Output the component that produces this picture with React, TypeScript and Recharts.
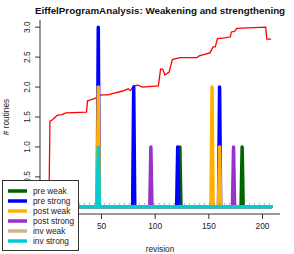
import React from "react";
import { LineChart, Line, XAxis, YAxis, ReferenceLine, Label } from "recharts";

const FONT = '"Liberation Sans", Arial, Helvetica, sans-serif';

const firstRevision = 1;
const lastRevision = 208;

// red line (cumulative routines)
const routineRevisions = [
  1, 2, 4, 7, 9, 13, 17, 36, 37, 39, 44, 50, 56, 60, 69, 75, 77, 80, 84, 88,
  103, 105, 107, 109, 113, 116, 123, 139, 141, 151, 154, 156, 158, 165, 170,
  171, 174, 176, 203, 204, 208,
];
const routineCounts = [
  0, 1.43, 1.45, 1.5, 1.53, 1.54, 1.57, 1.58, 1.77, 1.78, 1.81, 1.87, 1.87,
  1.89, 1.93, 1.97, 1.94, 2.02, 2.03, 2.0, 2.02, 2.3, 2.3, 2.2, 2.25, 2.46,
  2.49, 2.49, 2.52, 2.57, 2.67, 2.67, 2.81, 2.82, 2.84, 2.92, 2.93, 2.98, 3.0,
  2.8, 2.8,
];

// spikes per series
const preWeakRevs = [123, 181];
const preWeakCounts = [1, 1];
const preStrongRevs = [47, 80, 121, 160];
const preStrongCounts = [3, 2, 1, 2];
const postWeakRevs = [47, 153, 160];
const postWeakCounts = [2, 2, 1];
const postStrongRevs = [96, 173];
const postStrongCounts = [1, 1];
const invWeakRevs: number[] = [];
const invWeakCounts: number[] = [];
const invStrongRevs = [47];
const invStrongCounts = [1];

const xTicks = [50, 100, 150, 200];
const yTicks = [0, 0.5, 1, 1.5, 2, 2.5, 3];

const routineData = routineRevisions.map((rev, i) => ({ rev, count: routineCounts[i] }));

function spikeSeries(revs: number[], counts: number[]) {
  const pts = [{ rev: firstRevision, count: 0 }];
  revs.forEach((r, i) => {
    pts.push({ rev: r - 1, count: 0 }, { rev: r, count: counts[i] }, { rev: r + 1, count: 0 });
  });
  pts.push({ rev: lastRevision, count: 0 });
  return pts;
}

const series = [
  { name: "pre weak", color: "#006400", data: spikeSeries(preWeakRevs, preWeakCounts) },
  { name: "pre strong", color: "#0000ff", data: spikeSeries(preStrongRevs, preStrongCounts) },
  { name: "post weak", color: "#ffb000", data: spikeSeries(postWeakRevs, postWeakCounts) },
  { name: "post strong", color: "#9932cc", data: spikeSeries(postStrongRevs, postStrongCounts) },
  { name: "inv weak", color: "#d2b48c", data: spikeSeries(invWeakRevs, invWeakCounts) },
  { name: "inv strong", color: "#00ced1", data: spikeSeries(invStrongRevs, invStrongCounts) },
];

const YTick = (props: any) => {
  const { x, y, payload } = props;
  return (
    <text
      x={x}
      y={y}
      transform={`rotate(-90 ${x} ${y})`}
      textAnchor="middle"
      fontSize={8.3}
      fill="#222"
      fontFamily={FONT}
    >
      {payload.value.toFixed(1)}
    </text>
  );
};

function Legend() {
  return (
    <svg
      width={80}
      height={74}
      style={{ position: "absolute", left: 2, top: 180 }}
    >
      <rect x={0.5} y={0.5} width={76} height={70} fill="#fff" stroke="#333" />
      {series.map((s, i) => (
        <g key={s.name}>
          <line x1={6} x2={25} y1={11 + i * 10} y2={11 + i * 10} stroke={s.color} strokeWidth={3.5} />
          <text x={31} y={14 + i * 10} fontSize={8.3} fontFamily={FONT} fill="#222">
            {s.name}
          </text>
        </g>
      ))}
    </svg>
  );
}

export default function App() {
  return (
    <div
      style={{
        position: "absolute",
        left: 0,
        top: 0,
        width: 294,
        height: 254,
        background: "#fff",
        fontFamily: FONT,
      }}
    >
      <div
        style={{
          position: "absolute",
          left: 0,
          top: 5,
          width: 320,
          textAlign: "center",
          fontWeight: "bold",
          fontSize: 9.8,
          lineHeight: "11px",
          color: "#111",
          whiteSpace: "nowrap",
        }}
      >
        EiffelProgramAnalysis: Weakening and strengthening
      </div>
      <LineChart width={294} height={254} margin={{ top: 20, right: 14, bottom: 0, left: 0 }}>
        <XAxis
          dataKey="rev"
          type="number"
          domain={[-7.28, 216.28]}
          allowDataOverflow
          ticks={xTicks}
          height={40}
          tickSize={5}
          tickMargin={4}
          stroke="#333"
          tick={{ fontSize: 8.3, fill: "#222", fontFamily: FONT }}
        >
          <Label
            content={(p: any) => {
              const vb = p.viewBox;
              return (
                <text
                  x={vb.x + vb.width / 2}
                  y={vb.y + 38}
                  textAnchor="middle"
                  fontSize={8.3}
                  fill="#222"
                  fontFamily={FONT}
                >
                  revision
                </text>
              );
            }}
          />
        </XAxis>
        <XAxis
          xAxisId="top"
          orientation="top"
          type="number"
          domain={[-7.28, 216.28]}
          allowDataOverflow
          height={0}
          tick={false}
          tickLine={false}
          stroke="#333"
        />
        <YAxis
          type="number"
          domain={[-0.12, 3.12]}
          allowDataOverflow
          ticks={yTicks}
          width={40}
          tickSize={5}
          tickMargin={5}
          stroke="#333"
          tick={YTick}
        >
          <Label
            content={(p: any) => {
              const vb = p.viewBox;
              const cx = vb.x + 9;
              const cy = vb.y + vb.height / 2;
              return (
                <text
                  x={cx}
                  y={cy}
                  transform={`rotate(-90 ${cx} ${cy})`}
                  textAnchor="middle"
                  fontSize={8.3}
                  fill="#222"
                  fontFamily={FONT}
                >
                  # routines
                </text>
              );
            }}
          />
        </YAxis>
        <YAxis
          yAxisId="right"
          orientation="right"
          type="number"
          domain={[-0.12, 3.12]}
          allowDataOverflow
          width={0}
          tick={false}
          tickLine={false}
          stroke="#333"
        />
        <Line
          data={routineData}
          dataKey="count"
          stroke="#ff0000"
          strokeWidth={1.3}
          dot={false}
          activeDot={false}
          isAnimationActive={false}
        />
        {series.map((s) => (
          <Line
            key={s.name}
            data={s.data}
            dataKey="count"
            name={s.name}
            stroke={s.color}
            strokeWidth={3.5}
            strokeLinejoin="round"
            strokeLinecap="round"
            dot={false}
            activeDot={false}
            isAnimationActive={false}
          />
        ))}
        <ReferenceLine
          segment={[
            { x: firstRevision, y: 0 },
            { x: lastRevision, y: 0 },
          ]}
          shape={(p: any) => (
            <line
              x1={p.x1}
              x2={p.x2}
              y1={p.y1 - 3}
              y2={p.y2 - 3}
              stroke="#6a5fe6"
              strokeWidth={1}
              strokeDasharray="1 4"
            />
          )}
        />
      </LineChart>
      <Legend />
    </div>
  );
}
